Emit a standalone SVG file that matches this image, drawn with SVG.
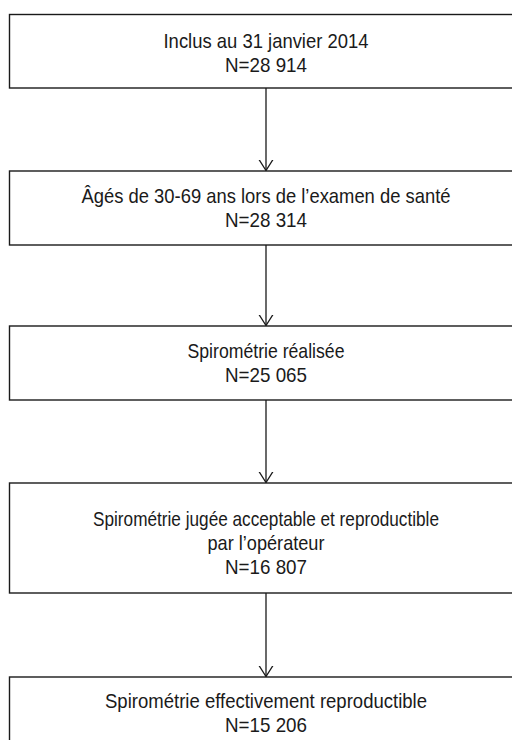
<svg xmlns="http://www.w3.org/2000/svg" width="512" height="740" viewBox="0 0 512 740">
<style>
.box{fill:#fff;stroke:#1a1a1a;stroke-width:1.4}
.t{font-family:"Liberation Sans","Arial",sans-serif;font-size:21px;fill:#1a1a1a;text-anchor:middle}
.c{stroke:#1a1a1a;stroke-width:1.3;fill:none}
</style>
<defs>
<marker id="arr" viewBox="0 0 11 16" refX="11" refY="8" markerWidth="11" markerHeight="16" markerUnits="userSpaceOnUse" orient="auto">
<path d="M0,1 L11,8 L0,15" fill="none" stroke="#1a1a1a" stroke-width="1.3"/>
</marker>
</defs>
<rect width="512" height="740" fill="#fff"/>
<g id="connectors">
<line class="c" x1="266" y1="88" x2="266" y2="170.5" marker-end="url(#arr)"/>
<line class="c" x1="266" y1="245" x2="266" y2="325.5" marker-end="url(#arr)"/>
<line class="c" x1="266" y1="400" x2="266" y2="482.5" marker-end="url(#arr)"/>
<line class="c" x1="266" y1="593" x2="266" y2="676.5" marker-end="url(#arr)"/>
</g>
<g id="n1">
<rect class="box" x="9.5" y="14.5" width="514" height="73.5"/>
<text class="t" x="266" y="48" textLength="205" lengthAdjust="spacingAndGlyphs">Inclus au 31 janvier 2014</text>
<text class="t" x="266" y="72" textLength="82" lengthAdjust="spacingAndGlyphs">N=28 914</text>
</g>
<g id="n2">
<rect class="box" x="9.5" y="171" width="514" height="74"/>
<text class="t" x="266" y="203" textLength="369" lengthAdjust="spacingAndGlyphs">Âgés de 30-69 ans lors de l’examen de santé</text>
<text class="t" x="266" y="227" textLength="82" lengthAdjust="spacingAndGlyphs">N=28 314</text>
</g>
<g id="n3">
<rect class="box" x="9.5" y="326" width="514" height="74"/>
<text class="t" x="266" y="358" textLength="157" lengthAdjust="spacingAndGlyphs">Spirométrie réalisée</text>
<text class="t" x="266" y="382" textLength="82" lengthAdjust="spacingAndGlyphs">N=25 065</text>
</g>
<g id="n4">
<rect class="box" x="9.5" y="483" width="514" height="110"/>
<text class="t" x="266" y="526" textLength="346" lengthAdjust="spacingAndGlyphs">Spirométrie jugée acceptable et reproductible</text>
<text class="t" x="266" y="550" textLength="117" lengthAdjust="spacingAndGlyphs">par l’opérateur</text>
<text class="t" x="266" y="574" textLength="82" lengthAdjust="spacingAndGlyphs">N=16 807</text>
</g>
<g id="n5">
<rect class="box" x="9.5" y="677" width="514" height="74"/>
<text class="t" x="266" y="708" textLength="322" lengthAdjust="spacingAndGlyphs">Spirométrie effectivement reproductible</text>
<text class="t" x="266" y="732" textLength="82" lengthAdjust="spacingAndGlyphs">N=15 206</text>
</g>
</svg>
